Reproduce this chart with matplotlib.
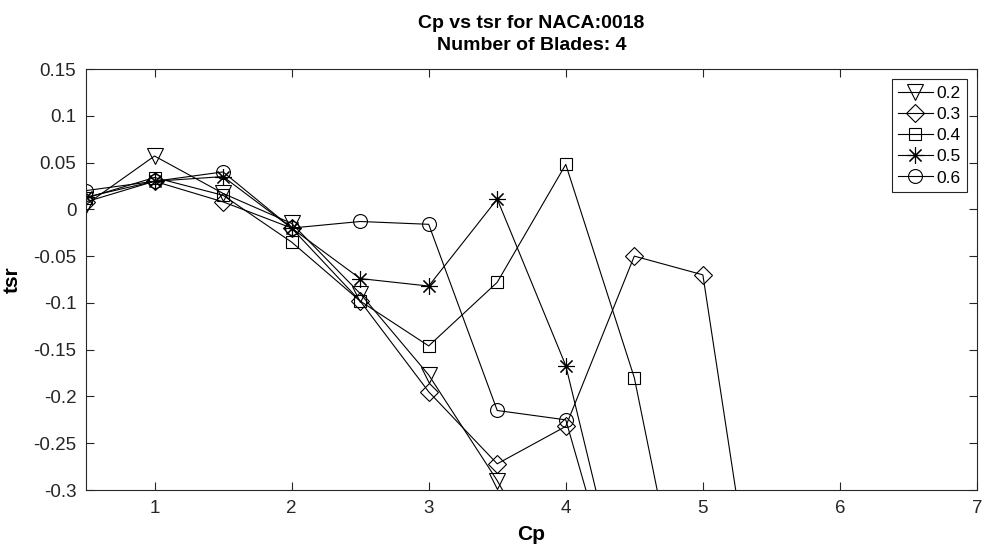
import matplotlib
matplotlib.use("Agg")
import matplotlib.pyplot as plt

plt.rcParams["font.family"] = ["Liberation Sans", "DejaVu Sans"]

# ==== data ====
cp = [0.5, 1.0, 1.5, 2.0, 2.5, 3.0, 3.5, 4.0, 4.5, 5.0, 5.5]

tsr_02 = [0.005, 0.057, 0.017, -0.015, -0.090, -0.177, -0.290, -0.420]
tsr_03 = [0.008, 0.030, 0.008, -0.020, -0.098, -0.195, -0.272, -0.232, -0.050, -0.070, -0.550]
tsr_04 = [0.012, 0.034, 0.015, -0.035, -0.098, -0.146, -0.078, 0.048, -0.180, -0.540]
tsr_05 = [0.013, 0.030, 0.035, -0.020, -0.074, -0.082, 0.011, -0.167, -0.470]
tsr_06 = [0.020, 0.030, 0.040, -0.020, -0.013, -0.016, -0.215, -0.225, -0.480]

labels = ["0.2", "0.3", "0.4", "0.5", "0.6"]
series = [tsr_02, tsr_03, tsr_04, tsr_05, tsr_06]
markers = ["v", "D", "s", (8, 2, 0), "o"]
msizes = [11, 9, 8, 12, 10]

fig = plt.figure(figsize=(9.86, 5.52), dpi=100)
ax = fig.add_axes([0.0872, 0.1123, 0.9037, 0.7627])

for lab, y, m, ms in zip(labels, series, markers, msizes):
    ax.plot(cp[:len(y)], y, color="black", lw=0.8, marker=m, ms=ms,
            mfc="none", mec="black", mew=0.8, label=lab)

ax.set_xlim(0.5, 7)
ax.set_ylim(-0.3, 0.15)
ax.set_xticks([1, 2, 3, 4, 5, 6, 7])
ax.set_yticks([-0.3, -0.25, -0.2, -0.15, -0.1, -0.05, 0, 0.05, 0.1, 0.15])
ax.set_yticklabels(["-0.3", "-0.25", "-0.2", "-0.15", "-0.1", "-0.05", "0",
                    "0.05", "0.1", "0.15"])
ax.tick_params(direction="in", length=6, width=0.8, labelsize=13.5,
               top=True, right=True, colors="#262626", pad=7)
for s in ax.spines.values():
    s.set_color("#262626")
    s.set_linewidth(0.8)

ax.set_xlabel("Cp", fontsize=15, fontweight="bold", labelpad=6)
ax.set_ylabel("tsr", fontsize=15, fontweight="bold", labelpad=8)
ax.set_title("Cp vs tsr for NACA:0018\nNumber of Blades: 4", fontsize=14,
             fontweight="bold", linespacing=1.35, pad=14)

leg = ax.legend(loc="upper right", fontsize=12.5, fancybox=False,
                edgecolor="#262626", framealpha=1, handlelength=2.0,
                borderaxespad=0.6, labelspacing=0.35, handletextpad=0.2,
                borderpad=0.35)
leg.get_frame().set_linewidth(0.8)

fig.savefig("out.png", dpi=100)
